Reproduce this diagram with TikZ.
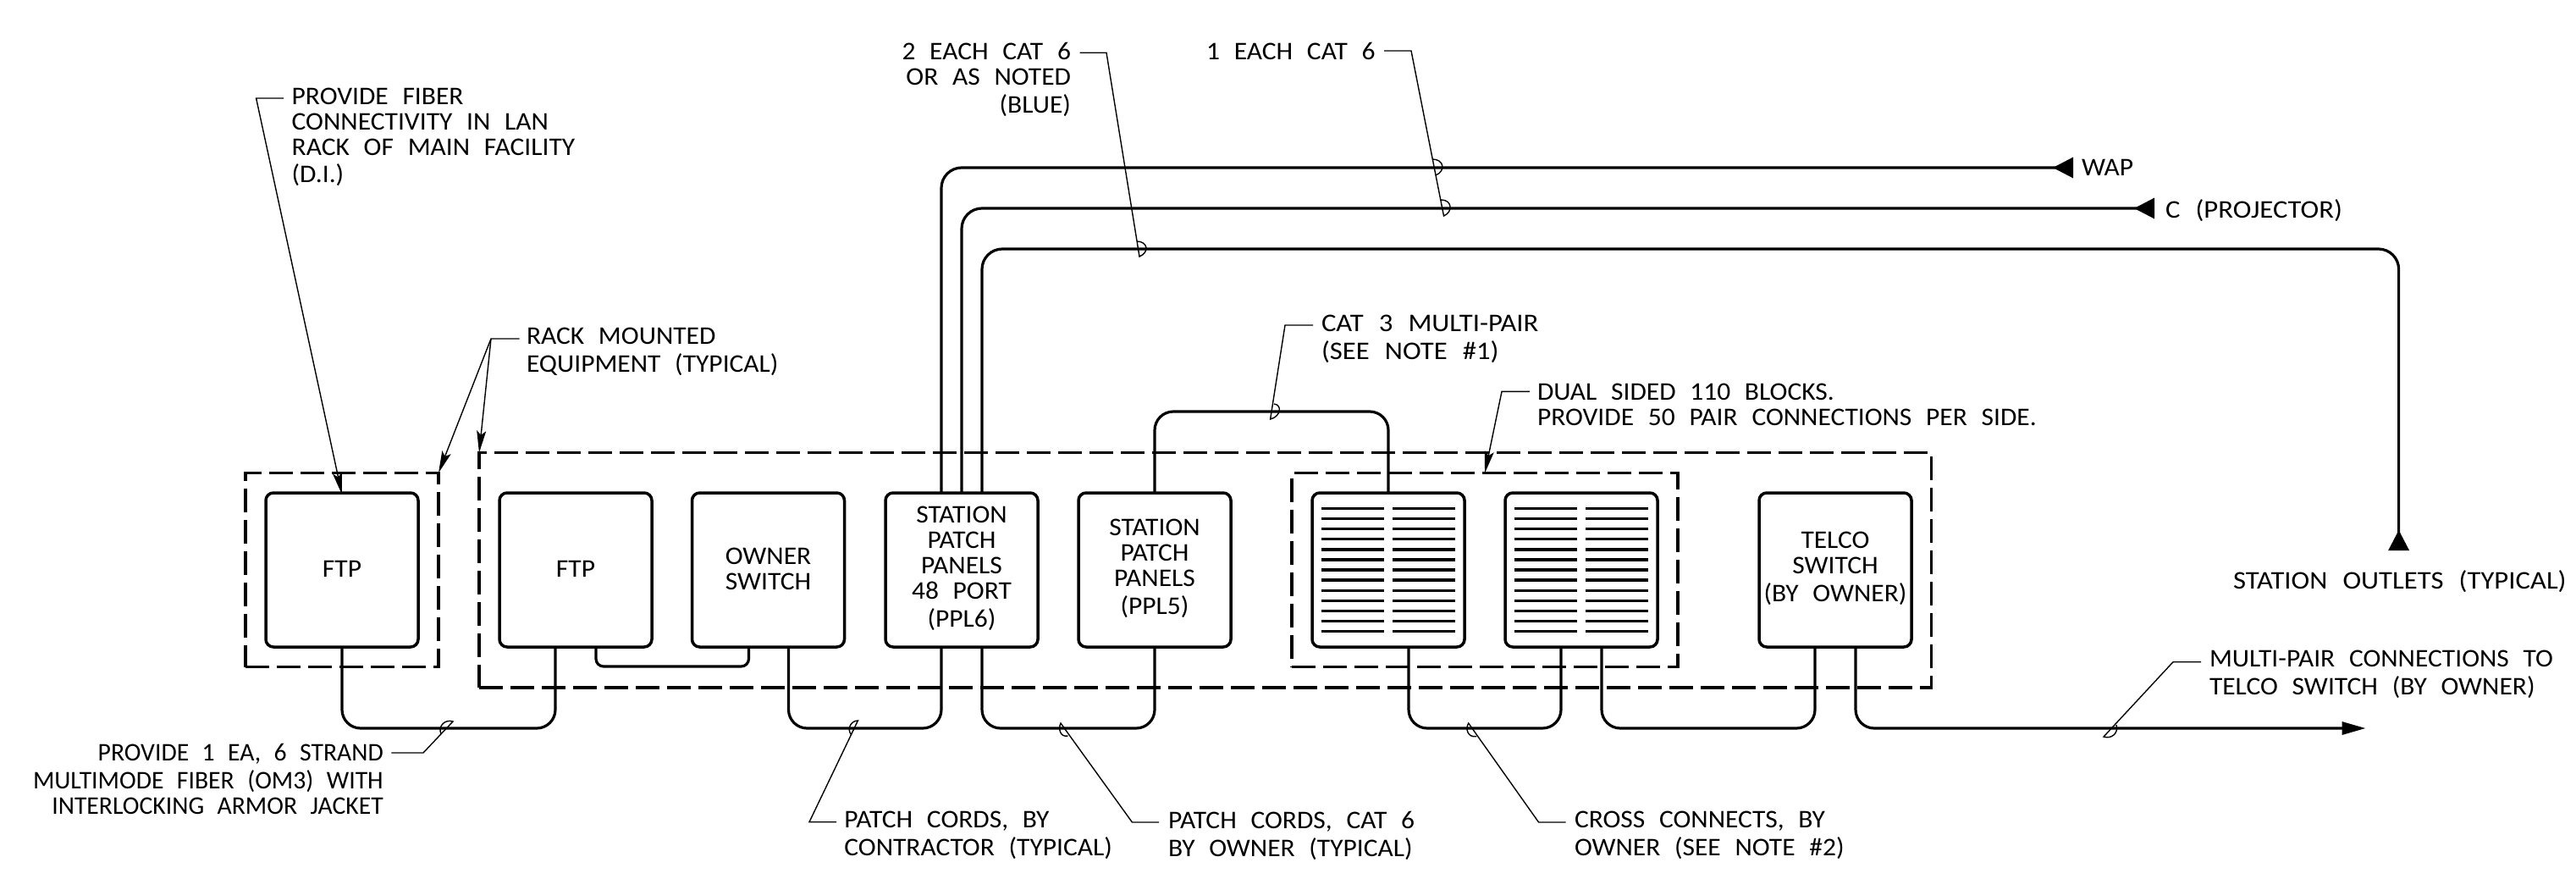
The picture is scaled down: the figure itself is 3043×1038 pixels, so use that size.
\documentclass[tikz,border=0pt]{standalone}
\usepackage{fontspec}
\setmainfont[WordSpace=2.35,FakeStretch=1.05]{Carlito}
\newfontfamily\narrowtext[WordSpace=2.3,FakeStretch=0.99]{Carlito}
\newfontfamily\widetext[WordSpace=2.45,FakeStretch=1.09]{Carlito}
\usetikzlibrary{arrows.meta,calc}
\newcommand\liftbox[1]{\rule[-#1pt]{0pt}{1pt}}
\tikzset{
  txt/.style={inner sep=0pt,outer sep=0pt,font=\fontsize{30}{30}\selectfont},
  unit/.style={txt,draw,line width=3.5pt,rounded corners=9pt,minimum width=180pt,minimum height=182pt,align=center},
  rack/.style={draw,line width=3.5pt,inner sep=0pt,outer sep=0pt,dash pattern=on 28pt off 9pt},
  wire/.style={line width=3.2pt,rounded corners=22pt},
  bar/.style={line width=3.2pt},
  lead/.style={line width=1.4pt},
  ptr/.style={lead,-{Stealth[length=26pt,width=11pt,inset=5pt]}},
  endtri/.style={-{Triangle[reversed,length=24pt,width=24pt]}},
}
\begin{document}
\begin{tikzpicture}[x=1pt,y=-1pt]
\useasboundingbox (0,0) rectangle (3043,1038);
% dashed groups
\node[rack,minimum width=228pt,minimum height=229pt] (rackA) at (404,673) {};
\node[rack,minimum width=1715.6pt,minimum height=277.5pt] (rackB) at (1423.8,673.4) {};
\node[rack,minimum width=456pt,minimum height=229pt] (dual) at (1754,673.2) {};
% units
\node[unit] (ftpa) at (404,673) {FTP\liftbox{1.5}};
\node[unit] (ftpb) at (680,673) {FTP\liftbox{1.5}};
\node[unit] (owner) at (907.5,673) {OWNER\\SWITCH\liftbox{1.5}};
\node[unit] (pplsix) at (1136,673) {STATION\\PATCH\\PANELS\\48 PORT\\[3pt](PPL6)\liftbox{7}};
\node[unit] (pplfive) at (1364,673) {STATION\\PATCH\\PANELS\\[3pt](PPL5)\liftbox{7}};
\node[unit] (bka) at (1640,673) {};
\node[unit] (bkb) at (1868,673) {};
\node[unit] (telco) at (2168,673) {TELCO\\SWITCH\\[3pt](BY OWNER)\liftbox{7}};
\foreach \b in {bka,bkb}{
  \foreach \i in {0,...,12}{
    \pgfmathsetmacro\dy{72.3-12.05*\i}
    \draw[bar] ([xshift=-79.4pt,yshift=\dy pt]\b.center) -- ([xshift=-5pt,yshift=\dy pt]\b.center);
    \draw[bar] ([xshift=5pt,yshift=\dy pt]\b.center) -- ([xshift=79.4pt,yshift=\dy pt]\b.center);
  }
}
% levels and free ends
\coordinate (bus) at (0,860);
\coordinate (over) at (0,486);
\coordinate (link) at (0,787);
\coordinate (wapEnd) at (2449,198);
\coordinate (cEnd) at (2545,246);
\coordinate (outEnd) at (2833.6,650);
\coordinate (outTop) at (2833.6,294);
\coordinate (telEnd) at (2794.5,860);
% wires
\draw[wire] (ftpa.south) -- (ftpa.south |- bus) -- ([xshift=-24pt]ftpb.south |- bus) -- ([xshift=-24pt]ftpb.south);
\draw[wire,rounded corners=9pt] ([xshift=24pt]ftpb.south) -- ([xshift=24pt]ftpb.south |- link) -- ([xshift=-23pt]owner.south |- link) -- ([xshift=-23pt]owner.south);
\draw[wire] ([xshift=24pt]owner.south) -- ([xshift=24pt]owner.south |- bus) -- ([xshift=-24pt]pplsix.south |- bus) -- ([xshift=-24pt]pplsix.south);
\draw[wire] ([xshift=24pt]pplsix.south) -- ([xshift=24pt]pplsix.south |- bus) -- (pplfive.south |- bus) -- (pplfive.south);
\draw[wire] (pplfive.north) -- (pplfive.north |- over) -- (bka.north |- over) -- (bka.north);
\draw[wire] ([xshift=24pt]bka.south) -- ([xshift=24pt]bka.south |- bus) -- ([xshift=-24pt]bkb.south |- bus) -- ([xshift=-24pt]bkb.south);
\draw[wire] ([xshift=24pt]bkb.south) -- ([xshift=24pt]bkb.south |- bus) -- ([xshift=-24pt]telco.south |- bus) -- ([xshift=-24pt]telco.south);
\draw[wire,-{Triangle[length=28pt,width=15pt]}] ([xshift=24pt]telco.south) -- ([xshift=24pt]telco.south |- bus) -- (telEnd);
\draw[wire,rounded corners=24pt,endtri] ([xshift=-24pt]pplsix.north) -- ([xshift=-24pt]pplsix.north |- wapEnd) -- (wapEnd);
\draw[wire,rounded corners=24pt,endtri] (pplsix.north) -- (pplsix.north |- cEnd) -- (cEnd);
\draw[wire,rounded corners=24pt,endtri] ([xshift=24pt]pplsix.north) -- ([xshift=24pt]pplsix.north |- outTop) -- (outTop) -- (outEnd);
% labels
\node[txt,anchor=west] (lwap) at (2459,198) {WAP};
\node[txt,anchor=north west] (lc) at (2558,235.5) {\widetext C (PROJECTOR)};
\node[txt,anchor=north west] (lout) at (2638,674) {\widetext STATION OUTLETS (TYPICAL)};
\node[txt,anchor=north west,align=left] (lfib) at (344.7,104) {PROVIDE FIBER\\CONNECTIVITY IN LAN\\RACK OF MAIN FACILITY\\[2pt](D.I.)};
\node[txt,anchor=north west,align=left] (lrack) at (622,387) {RACK MOUNTED\\[3pt]EQUIPMENT (TYPICAL)};
\node[txt,anchor=north east,align=right] (ltwo) at (1265,50) {2 EACH CAT 6\\OR AS NOTED\\[3pt](BLUE)};
\node[txt,anchor=north east] (lone) at (1624.6,50) {1 EACH CAT 6};
\node[txt,anchor=north west,align=left,font=\fontsize{30}{30}\selectfont\widetext] (lcat) at (1561,372) {CAT 3 MULTI-PAIR\\[3pt](SEE NOTE \#1)};
\node[txt,anchor=north west,align=left] (ldual) at (1816,453) {DUAL SIDED 110 BLOCKS.\\PROVIDE 50 PAIR CONNECTIONS PER SIDE.};
\node[txt,anchor=north east,align=right,font=\fontsize{30}{30}\selectfont\narrowtext] (lstrand) at (452.8,878.5) {PROVIDE 1 EA, 6 STRAND\\[3pt]MULTIMODE FIBER (OM3) WITH\\INTERLOCKING ARMOR JACKET};
\node[txt,anchor=north west,align=left] (lpa) at (997.4,958) {PATCH CORDS, BY\\[3pt]CONTRACTOR (TYPICAL)};
\node[txt,anchor=north west,align=left] (lpb) at (1380,958) {PATCH CORDS, CAT 6\\[3pt]BY OWNER (TYPICAL)};
\node[txt,anchor=north west,align=left] (lcc) at (1860,958) {CROSS CONNECTS, BY\\[3pt]OWNER (SEE NOTE \#2)};
\node[txt,anchor=north west,align=left] (lmp) at (2610,768) {MULTI-PAIR CONNECTIONS TO\\[3pt]TELCO SWITCH (BY OWNER)};
% leaders
\coordinate (eFib) at (302.6,116);
\draw[ptr] ([xshift=-9.7pt]lfib.west |- eFib) -- (eFib) -- ([yshift=-2pt]ftpa.north);
\coordinate (eRack) at (580,400);
\draw[ptr] ([xshift=-8.4pt]lrack.west |- eRack) -- (eRack) -- (rackA.north east);
\draw[ptr] (eRack) -- (rackB.north west);
\coordinate (eDual) at (1774,462.4);
\draw[ptr] ([xshift=-9.2pt]ldual.west |- eDual) -- (eDual) -- (dual.north);
\coordinate (eTwo) at (1307,62.3);
\draw[lead] ([xshift=10.5pt]ltwo.east |- eTwo) -- (eTwo) -- (1346,303) .. controls (1358,298) and (1356,285) .. (1342.7,285);
\coordinate (eOne) at (1667,60);
\draw[lead] ([xshift=10.4pt]lone.east |- eOne) -- (eOne) -- (1705.5,255) .. controls (1717,250) and (1715,236) .. (1702.6,236);
\draw[lead] (1696,207) .. controls (1708,202) and (1706,188) .. (1692,188);
\coordinate (eCat) at (1518,384);
\draw[lead] ([xshift=-10pt]lcat.west |- eCat) -- (eCat) -- (1500.6,495) .. controls (1513,492) and (1515,478) .. (1505,477);
\coordinate (eStr) at (500,889);
\draw[lead] ([xshift=9.6pt]lstrand.east |- eStr) -- (eStr) -- (535,852) .. controls (526,849) and (517,857) .. (521,867);
\coordinate (ePa) at (956,970.7);
\draw[lead] ([xshift=-9.4pt]lpa.west |- ePa) -- (ePa) -- (1013.4,851) .. controls (1005,851) and (1000,861) .. (1005.7,868);
\coordinate (ePb) at (1337.4,971);
\draw[lead] ([xshift=-11pt]lpb.west |- ePb) -- (ePb) -- (1253,854) .. controls (1250,860) and (1252,871) .. (1261.5,869);
\coordinate (eCc) at (1817.6,971);
\draw[lead] ([xshift=-10.5pt]lcc.west |- eCc) -- (eCc) -- (1734.7,854) .. controls (1731,860) and (1733,871) .. (1744,869.7);
\coordinate (eMp) at (2567,781.7);
\draw[lead] ([xshift=-10pt]lmp.west |- eMp) -- (eMp) -- (2485,870) .. controls (2494,873) and (2503,866) .. (2500,856);
\end{tikzpicture}
\end{document}
